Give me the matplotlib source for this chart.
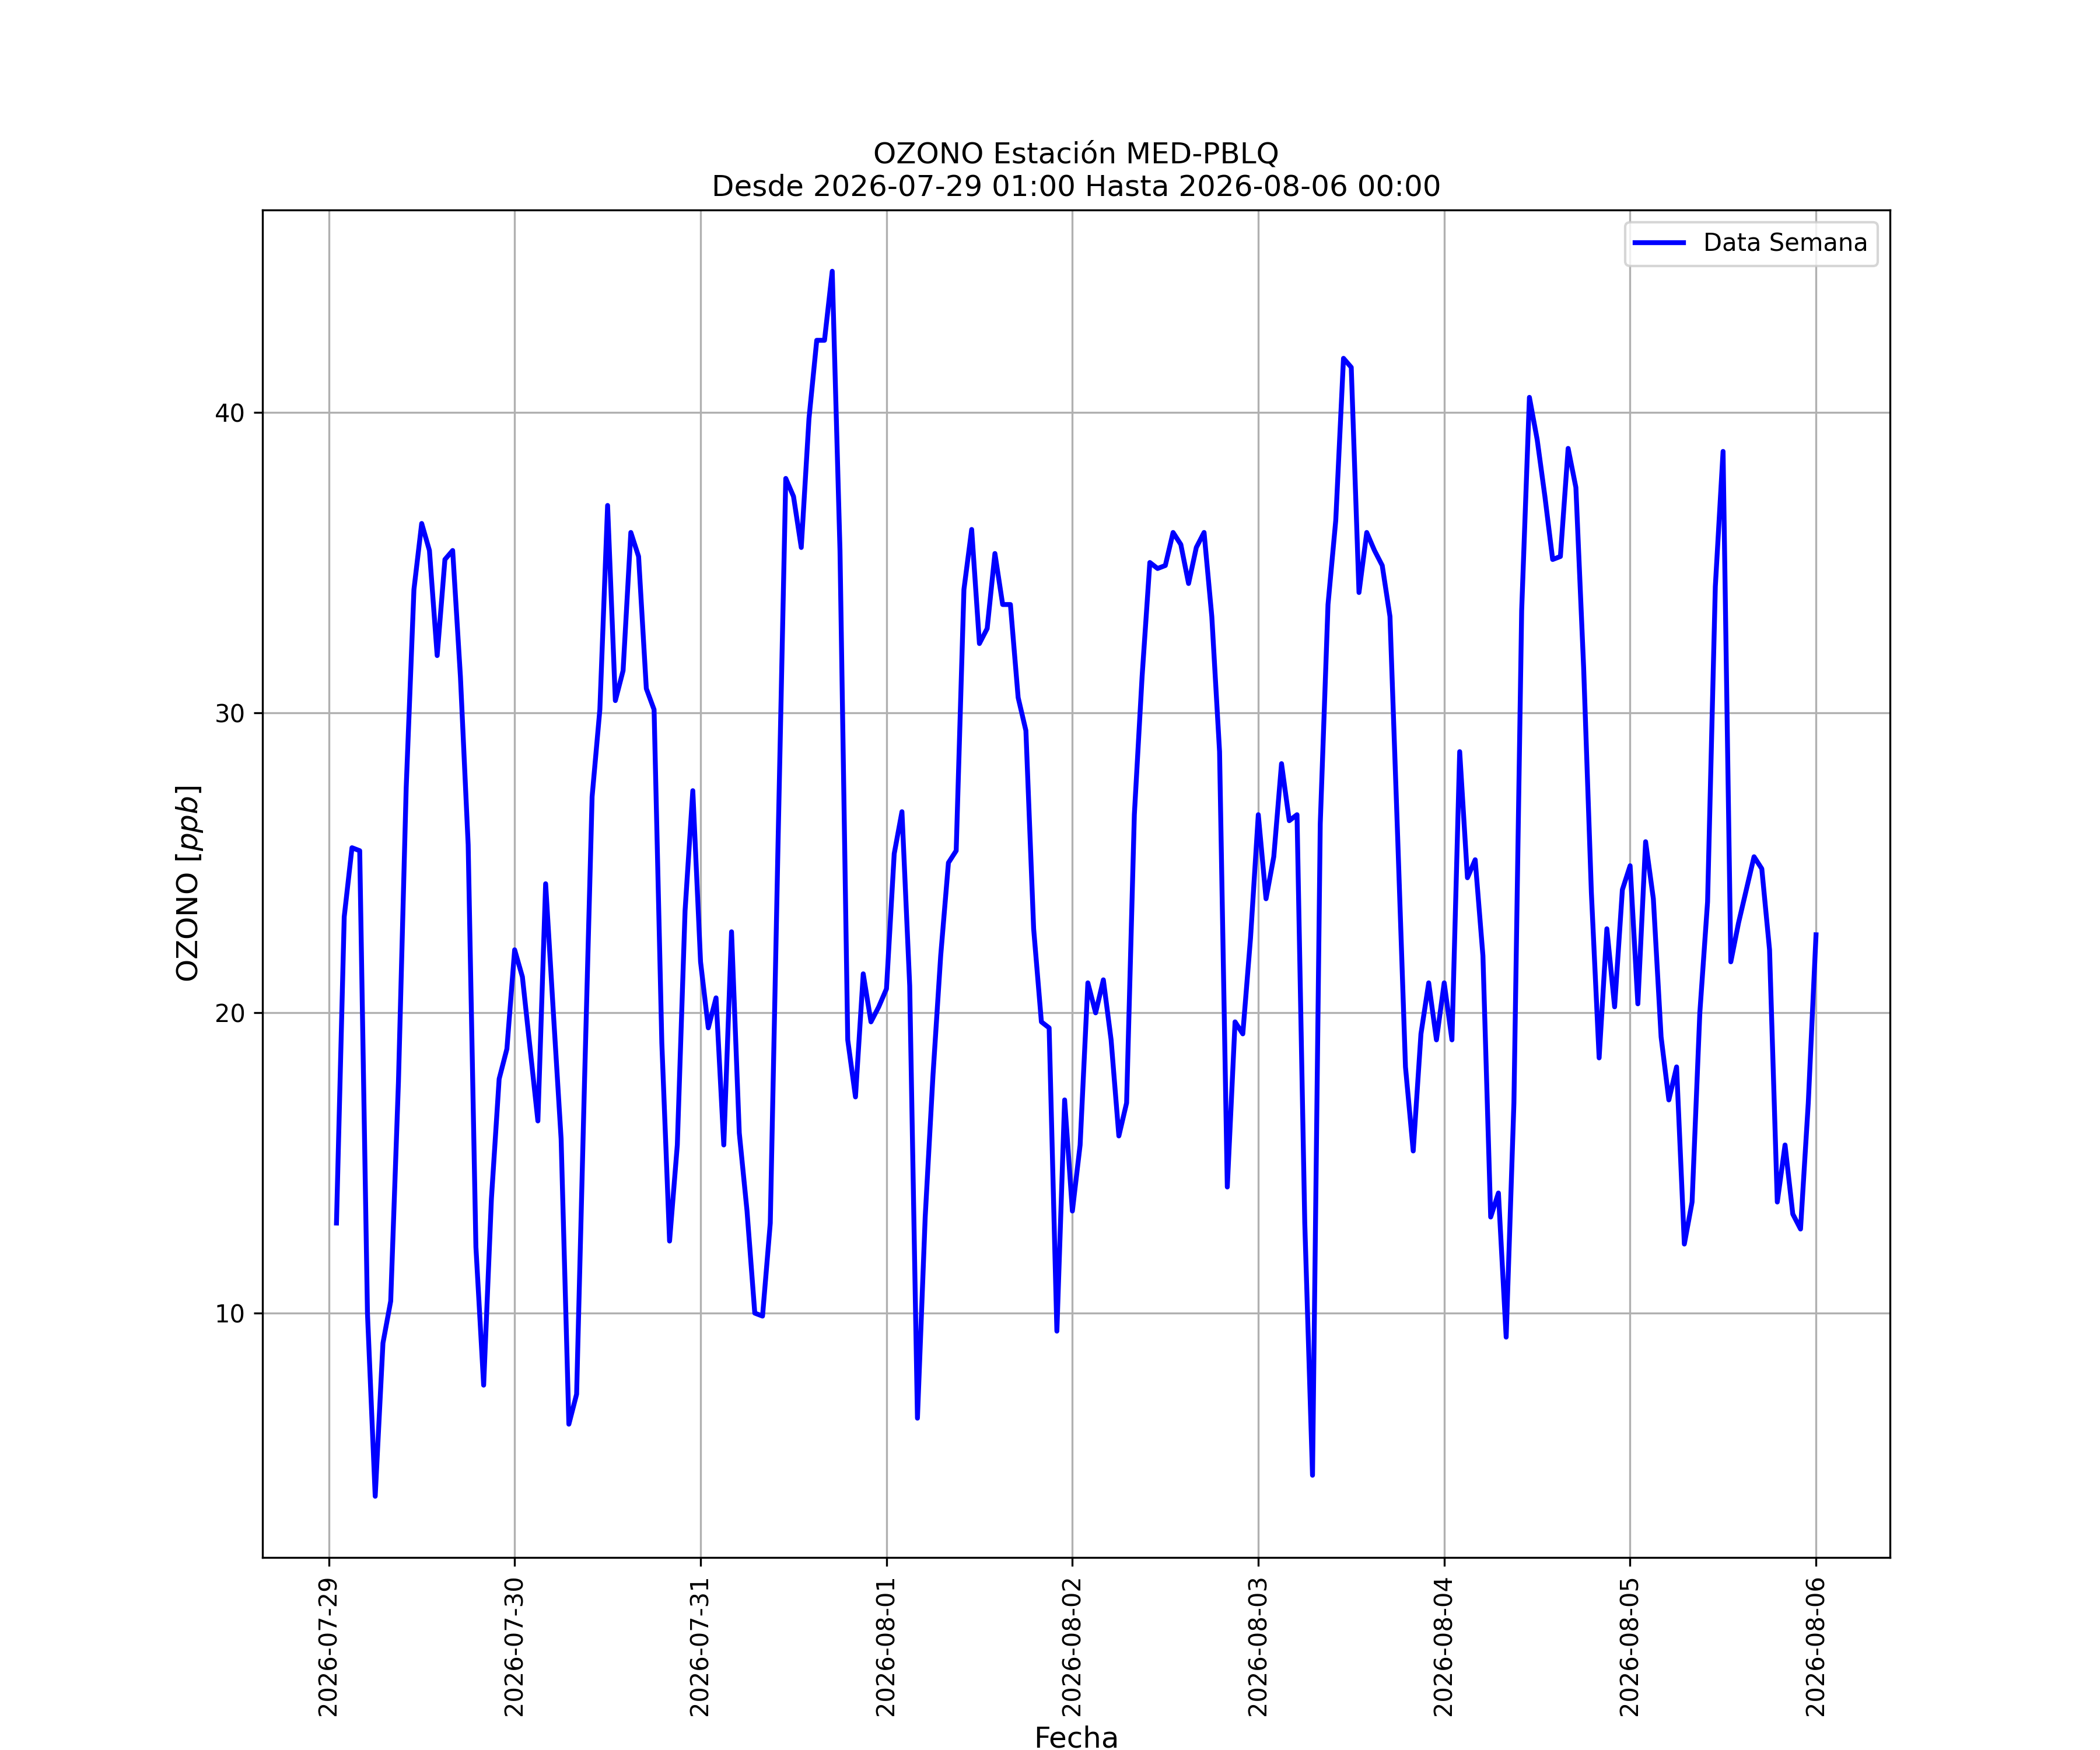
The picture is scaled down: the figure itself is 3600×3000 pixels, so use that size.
import matplotlib
matplotlib.use("Agg")
import matplotlib.pyplot as plt
import matplotlib.dates as mdates
import pandas as pd

day1 = [13.0, 23.2, 25.5, 25.4, 10.0, 3.9, 9.0, 10.4, 17.7, 27.5, 34.1, 36.3,
        35.4, 31.9, 35.1, 35.4, 31.2, 25.6, 12.2, 7.6, 13.8, 17.8, 18.8, 22.1]
day2 = [21.2, 18.8, 16.4, 24.3, 20.0, 15.8, 6.3, 7.3, 17.5, 27.2, 30.1, 36.9,
        30.4, 31.4, 36.0, 35.2, 30.8, 30.1, 19.0, 12.4, 15.6, 23.4, 27.4, 21.7]
day3 = [19.5, 20.5, 15.6, 22.7, 16.0, 13.4, 10.0, 9.9, 13.0, 25.6, 37.8, 37.2,
        35.5, 39.8, 42.4, 42.4, 44.7, 35.4, 19.1, 17.2, 21.3, 19.7, 20.2, 20.8]
day4 = [25.3, 26.7, 20.9, 6.5, 13.2, 17.9, 21.9, 25.0, 25.4, 34.1, 36.1, 32.3,
        32.8, 35.3, 33.6, 33.6, 30.5, 29.4, 22.8, 19.7, 19.5, 9.4, 17.1, 13.4]
day5 = [15.6, 21.0, 20.0, 21.1, 19.1, 15.9, 17.0, 26.6, 31.2, 35.0, 34.8, 34.9,
        36.0, 35.6, 34.3, 35.5, 36.0, 33.2, 28.7, 14.2, 19.7, 19.3, 22.5, 26.6]
day6 = [23.8, 25.2, 28.3, 26.4, 26.6, 13.0, 4.6, 26.3, 33.6, 36.4, 41.8, 41.5,
        34.0, 36.0, 35.4, 34.9, 33.2, 25.8, 18.2, 15.4, 19.3, 21.0, 19.1, 21.0]
day7 = [19.1, 28.7, 24.5, 25.1, 21.9, 13.2, 14.0, 9.2, 17.0, 33.4, 40.5, 39.1,
        37.2, 35.1, 35.2, 38.8, 37.5, 31.5, 24.0, 18.5, 22.8, 20.2, 24.1, 24.9]
day8 = [20.3, 25.7, 23.8, 19.2, 17.1, 18.2, 12.3, 13.7, 20.0, 23.7, 34.2, 38.7,
        21.7, 23.0, 24.1, 25.2, 24.8, 22.1, 13.7, 15.6, 13.3, 12.8, 17.0, 22.6]

ozono = day1 + day2 + day3 + day4 + day5 + day6 + day7 + day8
fechas = pd.date_range("2026-07-29 01:00", periods=len(ozono), freq="h")

fig, ax = plt.subplots(figsize=(12, 10), dpi=300)
ax.plot(fechas, ozono, color="blue", linewidth=2, label="Data Semana")
ax.set_title("OZONO Estación MED-PBLQ\nDesde 2026-07-29 01:00 Hasta 2026-08-06 00:00", fontsize=12)
ax.set_xlabel("Fecha", fontsize=12)
ax.set_ylabel(r"OZONO $[ppb]$", fontsize=12)
ax.xaxis.set_major_locator(mdates.DayLocator())
ax.xaxis.set_major_formatter(mdates.DateFormatter("%Y-%m-%d"))
ax.set_yticks([10, 20, 30, 40])
plt.setp(ax.get_xticklabels(), rotation=90)
ax.grid(True)
ax.legend(loc="upper right")
fig.savefig("out.png", dpi=300)
